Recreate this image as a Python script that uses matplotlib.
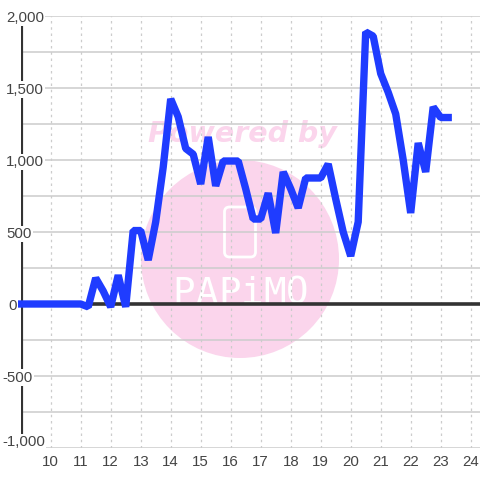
import numpy as np
import matplotlib
matplotlib.use('Agg')
import matplotlib.pyplot as plt
from matplotlib.patches import Circle, FancyBboxPatch

# data
hours = [9, 9.5, 10, 10.5, 11, 11.25, 11.5, 11.75, 12, 12.25, 12.5, 12.75, 13, 13.25, 13.5, 13.75,
         14, 14.25, 14.5, 14.75, 15, 15.25, 15.5, 15.75, 16, 16.25, 16.5, 16.75, 17, 17.25, 17.5,
         17.75, 18, 18.25, 18.5, 18.75, 19, 19.25, 19.5, 19.75, 20, 20.25, 20.5, 20.75, 21, 21.25,
         21.5, 21.75, 22, 22.25, 22.5, 22.75, 23, 23.25]
values = [0, 0, 0, 0, 0, -20, 180, 90, -20, 200, -20, 510, 510, 305, 570, 950,
          1424, 1300, 1080, 1040, 833, 1160, 820, 993, 993, 993, 800, 590, 590, 770, 493,
          917, 800, 667, 875, 875, 875, 972, 730, 500, 333, 570, 1889, 1860, 1600, 1470,
          1320, 1000, 632, 1118, 917, 1368, 1295, 1295]
x_ticks = list(range(10, 25))
y_ticks = [-1000, -500, 0, 500, 1000, 1500, 2000]
y_minor = [-750, -250, 250, 750, 1250, 1750]
y_labels = ['-1,000', '-500', '0', '500', '1,000', '1,500', '2,000']
label_y = [442, 377.7, 306, 234, 162, 89.7, 17.7]

DARK = '#333333'
GRID = '#cccccc'
PINK = '#fbd5ec'
BLUE = '#1f3cff'
plt.rcParams['font.family'] = ['Liberation Sans', 'DejaVu Sans']

fig = plt.figure(figsize=(4.8, 4.8), dpi=100, facecolor='white')
ax = fig.add_axes([0, 0, 1, 1])
ax.set_xlim(0, 480)
ax.set_ylim(480, 0)
ax.axis('off')

# chart axes placed in pixels on top of the full-figure canvas
plot = fig.add_axes([20.7 / 480, 32 / 480, 459.3 / 480, 432 / 480])
plot.patch.set_alpha(0)
plot.set_xlim(9, 9 + 459.3 / 30)
plot.set_ylim(-1000, 2000)
for sp in plot.spines.values():
    sp.set_visible(False)
plot.set_xticks(x_ticks)
plot.set_xticklabels([str(h) for h in x_ticks], fontsize=10.8, color='#444444')
plot.set_yticks(y_ticks + y_minor)
plot.set_yticklabels([])
plot.tick_params(length=0, pad=5)
plot.set_axisbelow(False)

# watermark
ax.add_patch(Circle((240, 259), 99, color=PINK, lw=0))
ax.add_patch(FancyBboxPatch((224.5, 207), 31, 50, boxstyle='round,pad=0,rounding_size=5',
                            fc='none', ec='white', lw=2))
ax.text(242, 134, 'Powered by', fontsize=20.5, fontweight='bold', style='italic', color=PINK,
        ha='center', va='center', family='DejaVu Sans')
for px, ch in zip([184, 206.6, 229.2, 251.8, 274.4, 297], 'PAPiMO'):
    ax.text(px, 304, ch, fontsize=27, color='white', ha='center', va='baseline',
            family='DejaVu Sans Mono')

plot.grid(axis='y', color=GRID, lw=1.1, zorder=2)
plot.grid(axis='x', color=GRID, lw=0.9, ls=(0, (2, 3)), zorder=2)
plot.axhline(0, color=DARK, lw=2.6, zorder=3)
plot.plot([9, 9], [-920, 1950], color=DARK, lw=3, zorder=3, solid_capstyle='butt')
plot.plot(hours, values, color=BLUE, lw=5.3, zorder=4, solid_joinstyle='bevel',
          solid_capstyle='projecting', clip_on=False)

# y labels sit on white boxes that break the axis line
for py, v, lab in zip(label_y, y_ticks, y_labels):
    left = 2 if v < 0 else 6
    if v == 0:
        left = 8
    plot.annotate(lab, xy=(0, py), xycoords=ax.transData, xytext=(left, py), textcoords=ax.transData,
                  fontsize=10.8, color='#444444', ha='left', va='center', zorder=5,
                  bbox=dict(fc='white', ec='none', pad=1))

fig.savefig('out.png', dpi=100, facecolor='white')
